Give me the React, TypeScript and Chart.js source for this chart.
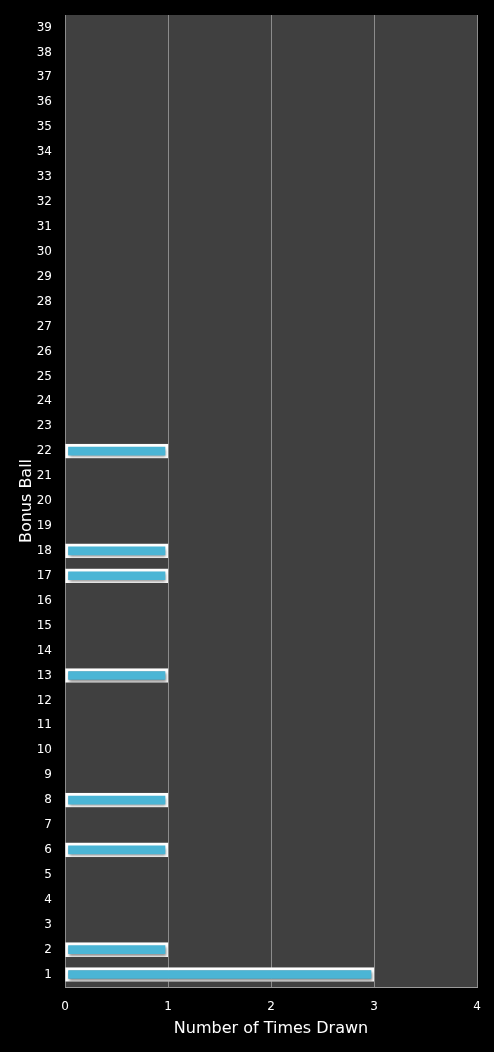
import React, { useEffect, useRef } from 'react';
import { Chart, registerables } from 'chart.js';

Chart.register(...registerables);

const balls: string[] = Array.from({ length: 39 }, (_, i) => String(i + 1));
const drawnBalls = [1, 2, 6, 8, 13, 17, 18, 22];
const drawnCounts = [3, 1, 1, 1, 1, 1, 1, 1];
const xTicks = [0, 1, 2, 3, 4];

const counts = balls.map((b) => {
  const idx = drawnBalls.indexOf(Number(b));
  return idx >= 0 ? drawnCounts[idx] : 0;
});

const backgroundPlugin = {
  id: 'bgFill',
  beforeDraw(chart: any) {
    const { ctx, chartArea, width, height } = chart;
    ctx.save();
    ctx.fillStyle = '#000000';
    ctx.fillRect(0, 0, width, height);
    ctx.fillStyle = '#404040';
    ctx.fillRect(chartArea.left, chartArea.top, chartArea.right - chartArea.left, chartArea.bottom - chartArea.top);
    ctx.restore();
  },
};

// soft drop shadow under the bars
const shadowPlugin = {
  id: 'barShadow',
  beforeDatasetsDraw(chart: any) {
    const ctx = chart.ctx;
    ctx.save();
    ctx.shadowColor = 'rgba(0, 0, 0, 0.45)';
    ctx.shadowBlur = 3;
    ctx.shadowOffsetX = 1;
    ctx.shadowOffsetY = 2;
  },
  afterDatasetsDraw(chart: any) {
    chart.ctx.restore();
  },
};

export default function App() {
  const canvasRef = useRef<HTMLCanvasElement>(null);
  const chartRef = useRef<Chart | null>(null);

  useEffect(() => {
    const el = canvasRef.current;
    if (!el) return;
    document.body.style.margin = '0';

    chartRef.current = new Chart(el, {
      type: 'bar',
      data: {
        labels: balls,
        datasets: [{
          data: counts,
          backgroundColor: '#4bb5d5',
          borderColor: '#ffffff',
          borderWidth: 3,
          borderSkipped: false,
          barThickness: 14,
        }],
      },
      options: {
        indexAxis: 'y',
        responsive: true,
        maintainAspectRatio: false,
        animation: false,
        layout: { padding: { top: 15, right: 17, left: 0, bottom: 0 } },
        plugins: {
          legend: { display: false },
          tooltip: { enabled: false },
        },
        scales: {
          x: {
            min: 0,
            max: 4,
            afterBuildTicks: (axis: any) => {
              axis.ticks = xTicks.map((v) => ({ value: v }));
            },
            afterFit: (axis: any) => {
              axis.height = 65;
            },
            grid: {
              color: '#8c8c8c',
              lineWidth: 1,
              drawTicks: false,
            },
            border: { display: true, color: '#9a9a9a' },
            ticks: {
              color: '#ffffff',
              padding: 13,
              font: { family: 'DejaVu Sans', size: 12 },
            },
            title: {
              display: true,
              text: 'Number of Times Drawn',
              color: '#ffffff',
              font: { family: 'DejaVu Sans', size: 16 },
              padding: { top: 2, bottom: 14 },
            },
          },
          y: {
            reverse: true,
            afterFit: (axis: any) => {
              axis.width = 65;
              axis.paddingTop = 0;
              axis.paddingBottom = 0;
            },
            grid: { display: false, drawTicks: false },
            border: { display: false },
            ticks: {
              color: '#ffffff',
              padding: 13,
              autoSkip: false,
              font: { family: 'DejaVu Sans', size: 12 },
            },
            title: {
              display: true,
              text: 'Bonus Ball',
              color: '#ffffff',
              font: { family: 'DejaVu Sans', size: 16 },
              padding: { top: 17, bottom: 0 },
            },
          },
        },
      },
      plugins: [backgroundPlugin, shadowPlugin],
    });

    return () => {
      chartRef.current?.destroy();
      chartRef.current = null;
    };
  }, []);

  return (
    <div style={{ position: 'fixed', left: 0, top: 0, width: '494px', height: '1052px', background: '#000' }}>
      <canvas ref={canvasRef} />
    </div>
  );
}
